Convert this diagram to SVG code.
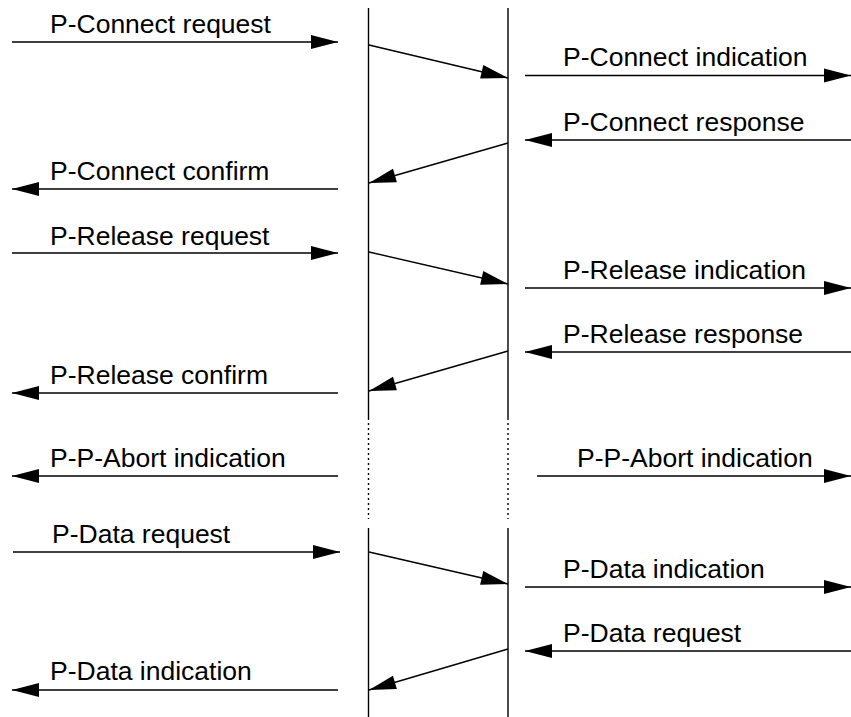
<svg xmlns="http://www.w3.org/2000/svg" width="851" height="717" viewBox="0 0 851 717">
<defs>
<marker id="ah" markerUnits="userSpaceOnUse" markerWidth="30" markerHeight="16" refX="27" refY="7" orient="auto" overflow="visible">
<path d="M0,0 L27,7 L0,14 z" fill="#000"/>
</marker>
<style>
.t{font-family:"Liberation Sans",Arial,sans-serif;font-size:26.5px;fill:#000}
.a{stroke:#000;stroke-width:1.4;fill:none;marker-end:url(#ah)}
.v{stroke:#000;stroke-width:1.4;fill:none}
.d{stroke:#000;stroke-width:1.4;fill:none;stroke-dasharray:2 3}
</style>
</defs>
<rect width="851" height="717" fill="#fff"/>
<g id="lifeline-left">
<line class="v" x1="368.5" y1="8" x2="368.5" y2="420"/>
<line class="d" x1="368.5" y1="423" x2="368.5" y2="519"/>
<line class="v" x1="368.5" y1="528" x2="368.5" y2="717"/>
</g>
<g id="lifeline-right">
<line class="v" x1="508" y1="8" x2="508" y2="420"/>
<line class="d" x1="508" y1="423" x2="508" y2="519"/>
<line class="v" x1="508" y1="528" x2="508" y2="717"/>
</g>
<g id="labels">
<text class="t" x="50" y="33">P-Connect request</text>
<text class="t" x="563" y="66">P-Connect indication</text>
<text class="t" x="563" y="131">P-Connect response</text>
<text class="t" x="50" y="180">P-Connect confirm</text>
<text class="t" x="50" y="245">P-Release request</text>
<text class="t" x="563" y="279">P-Release indication</text>
<text class="t" x="563" y="343">P-Release response</text>
<text class="t" x="50" y="384">P-Release confirm</text>
<text class="t" x="50" y="467">P-P-Abort indication</text>
<text class="t" x="577" y="467">P-P-Abort indication</text>
<text class="t" x="52" y="543">P-Data request</text>
<text class="t" x="563" y="578">P-Data indication</text>
<text class="t" x="563" y="642">P-Data request</text>
<text class="t" x="50" y="680">P-Data indication</text>
</g>
<g id="connectors">
<line class="a" x1="12" y1="42" x2="338" y2="42"/>
<line class="a" x1="369" y1="45" x2="508" y2="78"/>
<line class="a" x1="525" y1="75.5" x2="851" y2="75.5"/>
<line class="a" x1="851" y1="140" x2="525" y2="140"/>
<line class="a" x1="508" y1="143" x2="369" y2="183"/>
<line class="a" x1="338" y1="189" x2="12" y2="189"/>
<line class="a" x1="12" y1="253" x2="338" y2="253"/>
<line class="a" x1="369" y1="252" x2="508" y2="284"/>
<line class="a" x1="525" y1="288" x2="851" y2="288"/>
<line class="a" x1="851" y1="352" x2="525" y2="352"/>
<line class="a" x1="508" y1="351" x2="369" y2="391"/>
<line class="a" x1="338" y1="393" x2="12" y2="393"/>
<line class="a" x1="338" y1="476" x2="12" y2="476"/>
<line class="a" x1="537" y1="476" x2="851" y2="476"/>
<line class="a" x1="13" y1="552" x2="340" y2="552"/>
<line class="a" x1="369" y1="552" x2="508" y2="584"/>
<line class="a" x1="525" y1="587" x2="851" y2="587"/>
<line class="a" x1="851" y1="651" x2="525" y2="651"/>
<line class="a" x1="508" y1="649" x2="369" y2="690"/>
<line class="a" x1="338" y1="690" x2="12" y2="690"/>
</g>
</svg>
